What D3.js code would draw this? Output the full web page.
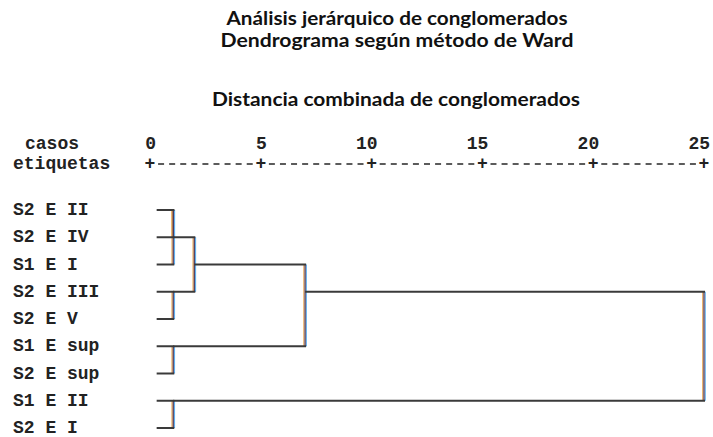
<!DOCTYPE html>
<html>
<head>
<meta charset="utf-8">
<script src="https://cdn.jsdelivr.net/npm/d3@7"></script>
<style>
	body{margin:0;background:#fff;}
	svg{display:block;}
</style>
</head>
<body>
<svg id="chart" width="713" height="437"></svg>
<script>
// leaves, top to bottom
const labels = ['S2 E II','S2 E IV','S1 E I','S2 E III','S2 E V','S1 E sup','S2 E sup','S1 E II','S2 E I'];
const tickValues = [0,5,10,15,20,25];
const titleLines = ['Análisis jerárquico de conglomerados','Dendrograma según método de Ward'];
const axisTitle = 'Distancia combinada de conglomerados';

// merges: node ids 0-8 are leaves, merge i creates node 9+i
const mergeA = [0, 9, 3, 5, 7, 10, 14, 15];
const mergeB = [1, 2, 4, 6, 8, 11, 12, 13];
const mergeH = [1.05, 1.05, 1.05, 1.05, 1.05, 2.0, 7.0, 25.0];

const leafStart = 0.3;
const mono = '"Liberation Mono","Courier New",monospace';
const sans = 'Lato,"Open Sans",sans-serif';

function init(){
	let svg = d3.select('#chart');

	let x = d3.scaleLinear().domain([0,25]).range([150,704]);
	let y = d3.scalePoint().domain(d3.range(labels.length)).range([210,428]);

	// titles
	let titleW = [341,353];
	titleLines.forEach(function(t,i){
		svg.append('text')
			.attr('x',397).attr('y',25+i*22)
			.attr('text-anchor','middle')
			.attr('font-family',sans).attr('font-weight',700).attr('font-size',19)
			.attr('textLength',titleW[i]).attr('lengthAdjust','spacingAndGlyphs')
			.attr('fill','#111')
			.text(t);
	});
	svg.append('text')
		.attr('x',396).attr('y',106)
		.attr('text-anchor','middle')
		.attr('font-family',sans).attr('font-weight',700).attr('font-size',19)
		.attr('textLength',368).attr('lengthAdjust','spacingAndGlyphs')
		.attr('fill','#111')
		.text(axisTitle);

	// ascii style axis header
	svg.append('text').attr('x',25).attr('y',149)
		.attr('font-family',mono).attr('font-weight',700).attr('font-size',18).attr('fill','#222')
		.text('casos');
	svg.append('text').attr('x',13).attr('y',169)
		.attr('font-family',mono).attr('font-weight',700).attr('font-size',18).attr('fill','#222')
		.text('etiquetas');

	// last digit of each number sits over its tick
	let axis = d3.axisTop(x).tickValues(tickValues).tickSize(0).tickPadding(0).tickFormat(d3.format('d'));
	let ag = svg.append('g').attr('transform','translate(0,149)').call(axis);
	ag.select('.domain').remove();
	ag.selectAll('text')
		.attr('font-family',mono).attr('font-weight',700).attr('font-size',18)
		.attr('fill','#222').attr('dy',0)
		.attr('text-anchor','end').attr('dx',5.5);

	let plusG = svg.append('g');
	tickValues.forEach(function(t,i){
		plusG.append('text').attr('x',x(t)).attr('y',169)
			.attr('text-anchor','middle')
			.attr('font-family',mono).attr('font-weight',700).attr('font-size',18).attr('fill','#222')
			.text('+');
		if(i<tickValues.length-1){
			let step = (tickValues[i+1]-t)/10;
			for(let k=1;k<10;k++){
				let cx = x(t+k*step);
				plusG.append('line')
					.attr('x1',cx-3).attr('x2',cx+3)
					.attr('y1',164).attr('y2',164)
					.attr('stroke','#333').attr('stroke-width',1.6);
			}
		}
	});

	// leaf labels
	svg.append('g').selectAll('text').data(labels).enter().append('text')
		.attr('x',13).attr('y',function(d,i){return y(i)+5})
		.attr('font-family',mono).attr('font-weight',700).attr('font-size',18).attr('fill','#222')
		.text(function(d){return d});

	// work out rows and heights for every node
	let row = labels.map(function(d,i){return i});
	let height = labels.map(function(){return leafStart});
	let horiz = [];
	let vert = [];
	mergeA.forEach(function(a,i){
		let b = mergeB[i];
		let h = mergeH[i];
		horiz.push({r:row[a],x1:height[a],x2:h});
		horiz.push({r:row[b],x1:height[b],x2:h});
		vert.push({h:h,r1:Math.min(row[a],row[b]),r2:Math.max(row[a],row[b])});
		row.push(Math.floor((row[a]+row[b])/2));
		height.push(h);
	});

	let lines = svg.append('g');
	// vertical links with the colour fringes of the original
	vert.forEach(function(v){
		let fringes = [{dx:-1.2,c:'#e9a24a'},{dx:1.2,c:'#5fb0ee'},{dx:0,c:'#4a3358'}];
		fringes.forEach(function(f){
			lines.append('line')
				.attr('x1',x(v.h)+f.dx).attr('x2',x(v.h)+f.dx)
				.attr('y1',y(v.r1)).attr('y2',y(v.r2))
				.attr('stroke',f.c).attr('stroke-width',1.2);
		});
	});
	horiz.forEach(function(hl){
		lines.append('line')
			.attr('x1',x(hl.x1)).attr('x2',x(hl.x2)+1)
			.attr('y1',y(hl.r)).attr('y2',y(hl.r))
			.attr('stroke','#3a3a3a').attr('stroke-width',2);
	});
}

init();
</script>
</body>
</html>
